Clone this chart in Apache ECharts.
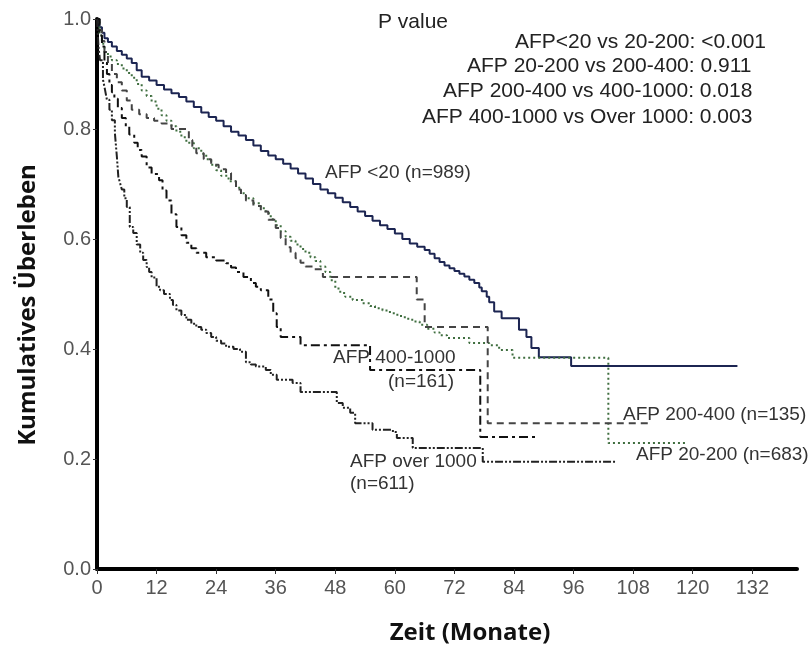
<!DOCTYPE html>
<html>
<head>
<meta charset="utf-8">
<script src="https://cdn.jsdelivr.net/npm/echarts@6/dist/echarts.min.js"></script>
<style>
html,body{margin:0;padding:0;background:#fff;}
#chart{width:812px;height:648px;}
</style>
</head>
<body>
<div id="chart"></div>
<script>
// Kaplan-Meier curves: time in months, cumulative survival
var xTicks = [0, 12, 24, 36, 48, 60, 72, 84, 96, 108, 120, 132];

var lt20_t = [0, 0.5, 1, 1.5, 2.2, 3, 4, 5, 6, 7, 8, 9, 10.5, 12, 13.5, 15, 16.5, 18, 19.5, 21, 22.5, 24, 25.5, 27, 28.5, 30, 31.5, 33, 34.5, 36, 37.5, 39, 40.5, 42, 43.5, 45, 46.5, 48, 49.5, 51, 52.5, 54, 55.5, 57, 58.5, 60, 61.5, 63, 64.5, 66, 67, 68, 69, 70, 71, 72, 73, 74, 75, 76, 77, 77.5, 78.5, 79, 80, 81.5, 85, 86.5, 87.5, 89, 95.5, 129];
var lt20_s = [1.0, 0.985, 0.975, 0.965, 0.958, 0.95, 0.942, 0.935, 0.928, 0.92, 0.907, 0.895, 0.888, 0.88, 0.872, 0.865, 0.858, 0.85, 0.84, 0.83, 0.822, 0.815, 0.805, 0.795, 0.788, 0.78, 0.77, 0.76, 0.752, 0.745, 0.737, 0.728, 0.719, 0.71, 0.7, 0.69, 0.683, 0.675, 0.667, 0.658, 0.65, 0.642, 0.633, 0.625, 0.618, 0.61, 0.6, 0.592, 0.586, 0.58, 0.573, 0.565, 0.558, 0.552, 0.547, 0.542, 0.537, 0.532, 0.526, 0.52, 0.512, 0.505, 0.495, 0.485, 0.468, 0.456, 0.435, 0.422, 0.402, 0.385, 0.369, 0.369];

var r20_t = [0, 0.5, 1, 1.5, 2.2, 3, 4, 5, 6, 7, 8, 9, 10, 11, 12, 13, 14, 15, 16, 17, 18, 19.5, 21, 22, 23, 24, 25, 26.5, 28, 29, 30, 31.5, 33, 34, 35, 36, 37, 38, 39, 40, 41, 42, 43, 44, 45, 46, 47, 48, 49, 50, 51.5, 53.5, 55, 56, 57.5, 59, 60.5, 62, 63.5, 65, 66.5, 68, 69, 70.5, 75, 79, 81, 83.7, 103, 119];
var r20_s = [1.0, 0.97, 0.955, 0.94, 0.932, 0.925, 0.918, 0.91, 0.902, 0.893, 0.882, 0.87, 0.86, 0.85, 0.837, 0.825, 0.815, 0.805, 0.795, 0.785, 0.775, 0.765, 0.755, 0.745, 0.735, 0.725, 0.715, 0.705, 0.693, 0.683, 0.674, 0.665, 0.656, 0.647, 0.636, 0.625, 0.614, 0.604, 0.597, 0.59, 0.582, 0.575, 0.567, 0.56, 0.55, 0.54, 0.525, 0.51, 0.502, 0.495, 0.489, 0.483, 0.478, 0.474, 0.47, 0.465, 0.46, 0.455, 0.45, 0.444, 0.437, 0.43, 0.425, 0.42, 0.411, 0.407, 0.398, 0.384, 0.229, 0.229];

var r200_t = [0, 0.5, 1, 1.5, 2.2, 3, 4, 5, 6, 7, 8.5, 10, 11.5, 13, 15, 18.5, 19.2, 20, 21.5, 23, 24.5, 26, 27, 28, 29, 30, 31.5, 33, 34.5, 36, 37, 38, 39, 40, 41, 42, 43.5, 45.5, 64.4, 66, 78.7, 111];
var r200_s = [1.0, 0.98, 0.96, 0.94, 0.92, 0.9, 0.885, 0.87, 0.852, 0.835, 0.827, 0.82, 0.815, 0.81, 0.8, 0.78, 0.768, 0.756, 0.745, 0.735, 0.727, 0.72, 0.705, 0.69, 0.68, 0.67, 0.66, 0.65, 0.635, 0.62, 0.602, 0.585, 0.575, 0.565, 0.557, 0.55, 0.545, 0.531, 0.49, 0.44, 0.265, 0.265];

var r400_t = [0, 0.5, 1, 1.5, 2, 2.5, 3, 3.5, 4.2, 5, 5.8, 6.5, 7.5, 8.2, 9, 10, 11, 12.5, 13.2, 14, 15, 16, 17, 18, 19, 20, 22, 24, 26, 27, 28, 29.5, 31, 32, 33, 34.5, 35.5, 36.2, 37, 41, 55, 77.2, 88.5];
var r400_s = [1.0, 0.97, 0.95, 0.92, 0.9, 0.88, 0.867, 0.855, 0.838, 0.82, 0.805, 0.79, 0.775, 0.762, 0.75, 0.73, 0.718, 0.707, 0.688, 0.67, 0.645, 0.622, 0.607, 0.593, 0.583, 0.575, 0.567, 0.561, 0.556, 0.548, 0.54, 0.531, 0.52, 0.513, 0.507, 0.49, 0.465, 0.44, 0.422, 0.407, 0.362, 0.24, 0.24];

var o1000_t = [0, 0.3, 0.6, 1.2, 1.6, 2, 2.5, 3, 3.6, 4, 4.3, 4.7, 5, 5.5, 6, 6.6, 7.3, 8, 8.7, 9.3, 10, 10.5, 11, 12, 12.7, 13.5, 14.7, 15.3, 16, 17, 18, 19, 20, 21, 22, 23, 24, 25, 26, 27.5, 28.8, 30, 31, 32, 34, 35, 36.2, 39.4, 41, 48.3, 49.5, 51, 52, 55.5, 59.6, 60.4, 63.6, 77.7, 104.6];
var o1000_s = [1.0, 0.95, 0.925, 0.89, 0.872, 0.853, 0.835, 0.816, 0.793, 0.75, 0.713, 0.7, 0.69, 0.674, 0.658, 0.622, 0.611, 0.59, 0.575, 0.562, 0.549, 0.54, 0.53, 0.513, 0.507, 0.5, 0.489, 0.48, 0.47, 0.462, 0.453, 0.446, 0.44, 0.435, 0.429, 0.422, 0.415, 0.41, 0.404, 0.4, 0.395, 0.376, 0.372, 0.368, 0.362, 0.353, 0.344, 0.338, 0.322, 0.302, 0.293, 0.284, 0.265, 0.253, 0.249, 0.238, 0.22, 0.195, 0.195];

var pTitle = 'P value';
var pLines = [
	'AFP<20 vs 20-200: <0.001',
	'AFP 20-200 vs 200-400: 0.911',
	'AFP 200-400 vs 400-1000: 0.018',
	'AFP 400-1000 vs Over 1000: 0.003'
];

function pairs(t, s) {
	var out = [];
	for (var i = 0; i < t.length; i++) {
		out.push([t[i], s[i]]);
	}
	return out;
}

function kmSeries(name, t, s, color, dash) {
	return {
		name: name,
		type: 'line',
		step: 'end',
		showSymbol: false,
		symbol: 'none',
		silent: true,
		lineStyle: { color: color, width: 2, type: dash },
		data: pairs(t, s)
	};
}

var labelFont = '"Liberation Sans", Arial, sans-serif';
var titleFont = '"Open Sans", sans-serif';

function txt(x, y, text, size, color) {
	return {
		type: 'text', x: x, y: y,
		style: { text: text, fontFamily: labelFont, fontSize: size, fill: color, verticalAlign: 'middle' }
	};
}

var graphics = [
	txt(378, 22, pTitle, 21, '#222'),
	txt(515, 42, pLines[0], 21, '#222'),
	txt(467, 66, pLines[1], 21, '#222'),
	txt(443, 91, pLines[2], 21, '#222'),
	txt(422, 117, pLines[3], 21, '#222'),
	txt(325, 173, 'AFP <20 (n=989)', 19, '#333'),
	txt(333, 358, 'AFP 400-1000', 19, '#333'),
	txt(388, 382, '(n=161)', 19, '#333'),
	txt(350, 462, 'AFP over 1000', 19, '#333'),
	txt(350, 484, '(n=611)', 19, '#333'),
	txt(623, 415, 'AFP 200-400 (n=135)', 19, '#333'),
	txt(636, 455, 'AFP 20-200 (n=683)', 19, '#333'),
	{
		type: 'text', x: 28, y: 305, rotation: Math.PI / 2,
		style: { text: 'Kumulatives Überleben', fontFamily: titleFont, fontWeight: 'bold', fontSize: 24, fill: '#111', align: 'center', verticalAlign: 'middle' }
	},
	{
		type: 'text', x: 470, y: 633,
		style: { text: 'Zeit (Monate)', fontFamily: titleFont, fontWeight: 'bold', fontSize: 24, fill: '#111', align: 'center', verticalAlign: 'middle' }
	}
];

var mychart = echarts.init(document.getElementById('chart'));
var option = {
	animation: false,
	backgroundColor: '#fff',
	grid: { left: 97, top: 19, right: 15, bottom: 79, containLabel: false },
	xAxis: {
		type: 'value',
		min: 0,
		max: 141,
		interval: 12,
		axisLine: { lineStyle: { color: '#000', width: 4 } },
		axisTick: { customValues: xTicks, length: 5, lineStyle: { color: '#333', width: 1 } },
		axisLabel: { customValues: xTicks, margin: 9, fontSize: 20, color: '#555', fontFamily: labelFont },
		splitLine: { show: false }
	},
	yAxis: {
		type: 'value',
		min: 0,
		max: 1,
		interval: 0.2,
		axisLine: { show: true, lineStyle: { color: '#000', width: 4 } },
		axisTick: { show: true, length: 4, lineStyle: { color: '#333', width: 1 } },
		axisLabel: {
			margin: 6, fontSize: 20, color: '#555', fontFamily: labelFont,
			formatter: function (v) { return v.toFixed(1); }
		},
		splitLine: { show: false }
	},
	series: [
		kmSeries('AFP <20', lt20_t, lt20_s, '#1c2552', 'solid'),
		kmSeries('AFP 20-200', r20_t, r20_s, '#3f6e3f', [2, 3]),
		kmSeries('AFP 200-400', r200_t, r200_s, '#444', [7, 5]),
		kmSeries('AFP 400-1000', r400_t, r400_s, '#111', [9, 4, 3, 4]),
		kmSeries('AFP over 1000', o1000_t, o1000_s, '#222', [8, 2, 2, 2, 2, 2])
	],
	graphic: graphics
};
mychart.setOption(option);
</script>
</body>
</html>
